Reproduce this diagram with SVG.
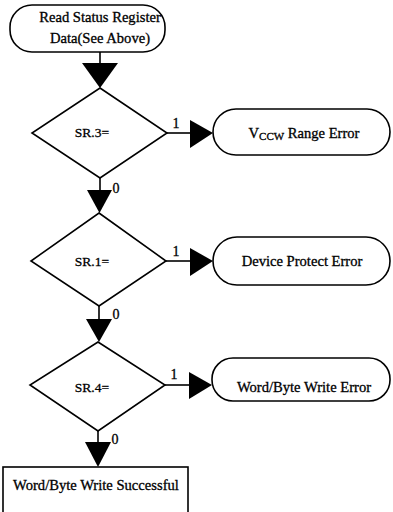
<svg xmlns="http://www.w3.org/2000/svg" width="393" height="512" viewBox="0 0 393 512">
<style>
.s{fill:#fff;stroke:#000;stroke-width:1.6}
.l{stroke:#000;stroke-width:1.6;fill:none}
.a{fill:#000}
text{font-family:"Liberation Serif","Times New Roman",serif;font-size:14.6px;fill:#000;stroke:#000;stroke-width:0.3;text-anchor:middle}
.sm{font-size:14px}
.sr{font-size:13.5px}
</style>
<rect width="393" height="512" fill="#fff"/>
<g id="connectors">
<line class="l" x1="100" y1="52" x2="100" y2="64"/>
<polygon class="a" points="82,63 118,63 100,88"/>
<line class="l" x1="100" y1="178" x2="100" y2="191"/>
<polygon class="a" points="87,190 112,190 99.5,213"/>
<text class="sm" x="116" y="193">0</text>
<line class="l" x1="99" y1="306" x2="99" y2="320"/>
<polygon class="a" points="86,319 112,319 99,342"/>
<text class="sm" x="116" y="319">0</text>
<line class="l" x1="98" y1="431" x2="98" y2="443"/>
<polygon class="a" points="85,442 111,442 98,467"/>
<text class="sm" x="115" y="444">0</text>
<line class="l" x1="167" y1="133" x2="191" y2="133"/>
<polygon class="a" points="190,120 190,148 213,133"/>
<text class="sm" x="176" y="128">1</text>
<line class="l" x1="166" y1="261" x2="191" y2="261"/>
<polygon class="a" points="190,248 190,276 213,261"/>
<text class="sm" x="176" y="256">1</text>
<line class="l" x1="165" y1="385" x2="190" y2="385"/>
<polygon class="a" points="189,372 189,399 212,385"/>
<text class="sm" x="174" y="379">1</text>
</g>
<g id="start">
<rect class="s" x="10" y="5" width="155" height="47" rx="22" ry="22"/>
<text x="100" y="22" font-size="14.2">Read Status Register</text>
<text x="100" y="43" font-size="14.2">Data(See Above)</text>
</g>
<g id="sr3">
<polygon class="s" points="100,88 167,133 100,178 32,133"/>
<text class="sr" x="92" y="137">SR.3=</text>
</g>
<g id="vccw">
<rect class="s" x="213" y="109" width="177" height="46" rx="23" ry="23"/>
<text x="304" y="138">V<tspan font-size="11" dy="2">CCW</tspan><tspan dy="-2"> Range Error</tspan></text>
</g>
<g id="sr1">
<polygon class="s" points="99,213 166,261 99,306 31,261"/>
<text class="sr" x="92" y="266">SR.1=</text>
</g>
<g id="protect">
<rect class="s" x="213" y="237" width="177" height="48" rx="24" ry="24"/>
<text x="302" y="266">Device Protect Error</text>
</g>
<g id="sr4">
<polygon class="s" points="98,342 165,385 98,431 30,385"/>
<text class="sr" x="92" y="392">SR.4=</text>
</g>
<g id="writeerr">
<rect class="s" x="212" y="358" width="178" height="43" rx="21" ry="21"/>
<text x="304" y="392">Word/Byte Write Error</text>
</g>
<g id="success">
<rect class="s" x="3" y="467" width="185" height="50"/>
<text x="96" y="490">Word/Byte Write Successful</text>
</g>
</svg>
